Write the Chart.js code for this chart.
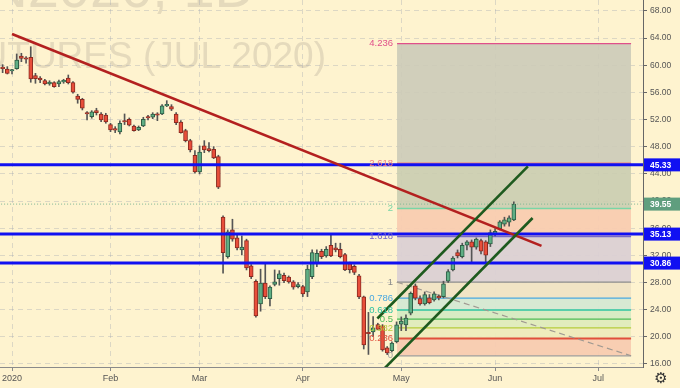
<!DOCTYPE html>
<html><head><meta charset="utf-8">
<script src="https://cdn.jsdelivr.net/npm/chart.js@4.4.0/dist/chart.umd.min.js"></script>
<style>html,body{margin:0;padding:0;background:#FEF3CF;overflow:hidden}canvas{display:block}</style>
</head><body>
<canvas id="c" width="680" height="388"></canvas>
<script>
// ---------- DATA ----------
const firstBarIndex = -2; // trading-day index of first candle (0 = 2 Jan 2020)
const opens  = [59.70,59.46,59.16,59.50,61.37,61.03,61.18,58.47,58.13,57.73,57.25,57.44,57.25,57.55,58.13,57.44,55.48,54.99,53.02,52.43,53.32,52.83,52.68,51.26,50.50,50.18,51.84,52.05,51.06,50.47,51.06,52.43,52.34,52.73,52.83,54.01,53.91,52.83,51.65,50.37,48.90,46.75,44.29,48.12,47.72,47.63,46.54,37.62,31.81,35.75,34.57,32.80,34.17,30.44,28.19,24.85,27.90,25.63,27.70,28.57,29.07,28.78,28.09,27.40,27.40,26.61,28.87,30.84,32.61,31.91,33.49,33.10,32.90,32.11,30.80,30.40,28.97,25.87,20.60,20.72,21.80,21.60,18.37,17.97,19.30,21.85,21.75,23.48,27.50,25.63,24.85,25.73,25.44,25.83,25.92,28.20,29.85,32.40,31.81,33.49,33.98,33.20,34.17,33.98,33.69,35.05,35.94,36.58,36.90,37.22];
const highs  = [60.10,59.80,59.41,61.67,61.77,61.27,62.74,58.82,58.32,57.94,57.73,57.59,57.84,57.94,58.57,57.59,55.73,55.14,53.17,53.32,53.67,53.02,52.93,51.46,50.96,51.80,52.83,52.24,51.21,51.06,52.34,52.64,53.02,53.02,54.20,54.79,54.20,53.02,51.84,50.58,49.10,47.43,48.12,48.90,48.61,48.02,46.75,37.81,35.75,37.32,35.05,34.86,34.38,30.64,28.38,29.96,30.84,27.50,29.85,29.75,29.37,28.97,28.28,27.99,27.60,30.55,32.80,32.80,32.90,33.29,34.96,33.79,33.79,32.31,31.00,30.60,29.20,26.00,23.60,22.98,22.00,21.80,18.56,19.25,22.20,22.93,23.23,26.61,27.79,26.03,26.61,26.22,26.61,26.17,28.19,29.90,31.81,32.80,33.79,34.17,34.27,34.57,34.38,34.17,35.75,35.94,37.12,37.62,37.81,39.90];
const lows   = [58.91,58.72,58.72,59.41,60.53,60.30,57.50,57.35,57.44,57.10,57.06,56.76,56.85,57.35,57.25,55.88,54.41,53.42,51.95,52.20,52.68,51.70,51.46,50.22,50.08,49.90,51.26,51.06,50.28,50.37,50.96,51.95,52.14,51.84,52.73,53.91,53.32,51.26,49.99,48.71,47.23,44.10,44.00,47.13,47.23,46.25,41.83,29.37,31.58,34.08,32.80,32.06,29.85,28.57,22.89,23.77,25.63,24.55,27.50,27.60,27.99,27.90,27.01,27.20,25.92,25.92,28.57,30.34,31.52,31.72,31.81,32.51,31.62,29.75,29.40,29.16,25.60,18.20,17.40,20.03,21.02,17.88,17.38,17.78,19.10,20.90,20.90,23.23,25.44,24.66,24.66,24.85,25.24,25.44,25.73,28.00,29.70,31.62,31.62,32.80,30.93,32.90,32.21,31.03,33.29,34.86,35.75,36.30,36.30,37.10];
const closes = [59.50,58.82,59.31,60.78,61.03,60.89,57.98,58.03,57.84,57.25,57.54,56.85,57.59,57.73,57.44,56.03,54.99,53.67,52.83,53.13,53.02,51.95,51.65,50.47,50.45,51.46,51.65,51.17,50.37,50.87,52.05,52.24,52.83,52.64,54.01,54.16,53.52,51.55,50.08,48.90,47.53,44.29,47.23,47.53,47.43,46.35,42.03,32.40,35.45,34.38,33.10,33.20,30.15,28.87,23.08,27.90,25.92,27.31,28.10,29.26,28.28,28.09,27.31,27.70,26.32,29.96,32.40,32.30,31.81,32.90,31.91,32.80,31.81,29.85,29.90,29.50,25.87,18.80,20.45,21.31,21.10,18.07,17.62,19.06,21.75,22.30,22.74,26.42,25.69,24.85,26.22,25.04,26.32,25.73,27.79,29.61,31.58,31.91,33.49,33.98,33.20,34.38,32.61,32.02,35.35,35.55,36.93,37.22,37.52,39.55];

const monthTickIndex = [0, 21, 40, 62, 83, 103, 125];
const monthTickLabel = ['2020', 'Feb', 'Mar', 'Apr', 'May', 'Jun', 'Jul'];
const priceTicks = [16, 20, 24, 28, 32, 36, 40, 44, 48, 52, 56, 60, 64, 68];

const redTrendIdx = [0, 112.9];
const redTrendPrice = [64.6, 33.4];
const channelUpperIdx = [77.9, 110.0];
const channelUpperPrice = [22.7, 45.1];
const channelLowerIdx = [79.5, 111.0];
const channelLowerPrice = [15.4, 37.5];

const levelPrices = [45.33, 35.13, 30.86];
const lastPrice = 39.55;

const fibRatios = ['0', '0.236', '0.382', '0.5', '0.618', '0.786', '1', '1.618', '2', '2.618', '4.236'];
const fibPrices = [17.2, 19.75, 21.3, 22.6, 23.95, 25.7, 28.05, 34.75, 38.9, 45.6, 63.2];
const fibSpanIdx = [82.1, 132.0];

// ---------- STYLES ----------
const S = {
  bg: '#FEF3CF',
  upFill: '#5FAE84', upLine: '#2E5E45',
  dnFill: '#E84E3A', dnLine: '#8A2A20',
  wick: '#555555',
  red: '#B3201F', green: '#1E5A1E', blue: '#1010F2',
  priceLine: '#7DB794', priceBox: '#5F9E7E',
  grid: 'rgba(150,155,175,0.32)',
  axisText: '#555555',
  fibLine: ['#9E9E9E','#E0503C','#B6CC3C','#4CBB55','#2EC4A0','#4AA8E0','#8C8C8C','#7468C8','#78D6A6','#EF7B7B','#E04F8A'],
  fibZone: [null,'rgba(247,203,176,0.92)','rgba(238,236,188,0.92)','rgba(222,236,188,0.92)','rgba(212,234,194,0.92)','rgba(212,232,212,0.92)','rgba(240,227,196,0.92)','rgba(218,207,212,0.92)','rgba(248,204,176,0.92)','rgba(202,205,176,0.9)','rgba(204,203,184,0.9)']
};
Chart.defaults.font.family = "'Liberation Sans', Arial, sans-serif";

const xs = opens.map((_, i) => firstBarIndex + i);
const isUp = closes.map((c, i) => c >= opens[i]);

const datasets = [];
fibPrices.forEach((p, k) => {
  datasets.push({
    type: 'line', data: [{x: fibSpanIdx[0], y: p}, {x: fibSpanIdx[1], y: p}],
    borderColor: S.fibLine[k], borderWidth: k === 1 ? 2 : 1.3, pointRadius: 0,
    fill: k === 0 ? false : '-1', backgroundColor: S.fibZone[k] || 'transparent', order: 20
  });
});
datasets.push({type: 'line', data: [{x: fibSpanIdx[0], y: fibPrices[6]}, {x: fibSpanIdx[1], y: fibPrices[0]}],
  borderColor: '#A09A92', borderWidth: 1.2, borderDash: [6, 4], pointRadius: 0, fill: false, order: 19});
datasets.push({type: 'bar', data: xs.map((x, i) => ({x, y: [lows[i], highs[i]]})),
  backgroundColor: S.wick, borderWidth: 0, barThickness: 1, grouped: false, order: 10});
datasets.push({type: 'bar', data: xs.map((x, i) => ({x, y: [opens[i], closes[i]]})),
  backgroundColor: isUp.map(u => u ? S.upFill : S.dnFill), borderColor: isUp.map(u => u ? S.upLine : S.dnLine),
  borderWidth: 1, borderSkipped: false, barThickness: 4, minBarLength: 1.5, grouped: false, order: 9});
datasets.push({type: 'line', data: [{x: -10, y: lastPrice}, {x: 150, y: lastPrice}],
  borderColor: S.priceLine, borderWidth: 1, borderDash: [1, 2], pointRadius: 0, fill: false, order: 8});
levelPrices.forEach(p => datasets.push({type: 'line', data: [{x: -10, y: p}, {x: 150, y: p}],
  borderColor: S.blue, borderWidth: 3, pointRadius: 0, fill: false, order: 5}));
datasets.push({type: 'line', data: redTrendIdx.map((x, i) => ({x, y: redTrendPrice[i]})),
  borderColor: S.red, borderWidth: 2.6, pointRadius: 0, fill: false, order: 3});
datasets.push({type: 'line', data: channelUpperIdx.map((x, i) => ({x, y: channelUpperPrice[i]})),
  borderColor: S.green, borderWidth: 2.6, pointRadius: 0, fill: false, order: 2});
datasets.push({type: 'line', data: channelLowerIdx.map((x, i) => ({x, y: channelLowerPrice[i]})),
  borderColor: S.green, borderWidth: 2.6, pointRadius: 0, fill: false, order: 2});

const bgPlugin = {
  id: 'bgwm',
  beforeDraw(chart) {
    const ctx = chart.ctx;
    ctx.save();
    ctx.fillStyle = S.bg; ctx.fillRect(0, 0, chart.width, chart.height);
    ctx.fillStyle = '#E5DABC';
    ctx.textAlign = 'right'; ctx.textBaseline = 'alphabetic';
    ctx.font = "56px 'Liberation Sans', Arial, sans-serif";
    ctx.fillText('CLN2020, 1D', 255, 7);
    ctx.font = "37px 'Liberation Sans', Arial, sans-serif";
    ctx.fillText('LIGHT CRUDE OIL FUTURES (JUL 2020)', 326, 68);
    ctx.restore();
  }
};

const overlayPlugin = {
  id: 'overlay',
  afterDraw(chart) {
    const ctx = chart.ctx, xS = chart.scales.x, yS = chart.scales.y;
    ctx.save();
    ctx.font = "9.5px 'Liberation Sans', Arial, sans-serif";
    ctx.textAlign = 'right'; ctx.textBaseline = 'middle';
    const lx = xS.getPixelForValue(fibSpanIdx[0]) - 4;
    fibRatios.forEach((r, k) => {
      ctx.fillStyle = S.fibLine[k];
      ctx.fillText(r, lx, yS.getPixelForValue(fibPrices[k]));
    });
    const boxX = chart.chartArea.right + 1;
    const drawBox = (v, col) => {
      const y = yS.getPixelForValue(v);
      ctx.fillStyle = col; ctx.fillRect(boxX, y - 6.5, chart.width - boxX, 13);
      ctx.fillStyle = '#FFFFFF'; ctx.textAlign = 'left';
      ctx.font = "bold 8.5px 'Liberation Sans', Arial, sans-serif";
      ctx.fillText(v.toFixed(2), boxX + 6, y + 0.5);
    };
    levelPrices.forEach(v => drawBox(v, S.blue));
    drawBox(lastPrice, S.priceBox);
    ctx.fillStyle = '#333'; ctx.textAlign = 'center';
    ctx.font = "15px 'DejaVu Sans', sans-serif";
    ctx.fillText('\u2699', 661, 379);
    ctx.restore();
  }
};

new Chart(document.getElementById('c'), {
  type: 'bar',
  data: {datasets},
  plugins: [bgPlugin, overlayPlugin],
  options: {
    responsive: false, animation: false, devicePixelRatio: 1,
    layout: {padding: 0},
    plugins: {legend: {display: false}, tooltip: {enabled: false}},
    scales: {
      x: {
        type: 'linear', min: -2.56, max: 134.54, offset: false,
        grid: {color: S.grid, offset: false, tickLength: 4, tickColor: '#8A8A8A', tickBorderDash: []},
        border: {color: '#8A8A8A', width: 1, dash: [5, 4]},
        afterBuildTicks: s => { s.ticks = monthTickIndex.map(v => ({value: v})); },
        afterFit: s => { s.height = 21; s.paddingLeft = 0; s.paddingRight = 0; },
        ticks: {autoSkip: false, maxRotation: 0, padding: 2, color: S.axisText, font: {size: 9},
          callback: (v, i) => monthTickLabel[i]}
      },
      y: {
        type: 'linear', position: 'right', min: 15.55, max: 69.62, beginAtZero: false,
        grid: {color: S.grid, tickLength: 4, tickColor: '#666', tickBorderDash: []},
        border: {color: '#666', width: 1, dash: [5, 4]},
        afterBuildTicks: s => { s.ticks = priceTicks.map(v => ({value: v})); },
        afterFit: s => { s.width = 37; s.paddingTop = 0; s.paddingBottom = 0; },
        ticks: {padding: 3, color: S.axisText, font: {size: 8.5}, callback: v => Number(v).toFixed(2)}
      }
    }
  }
});
</script>
</body></html>
